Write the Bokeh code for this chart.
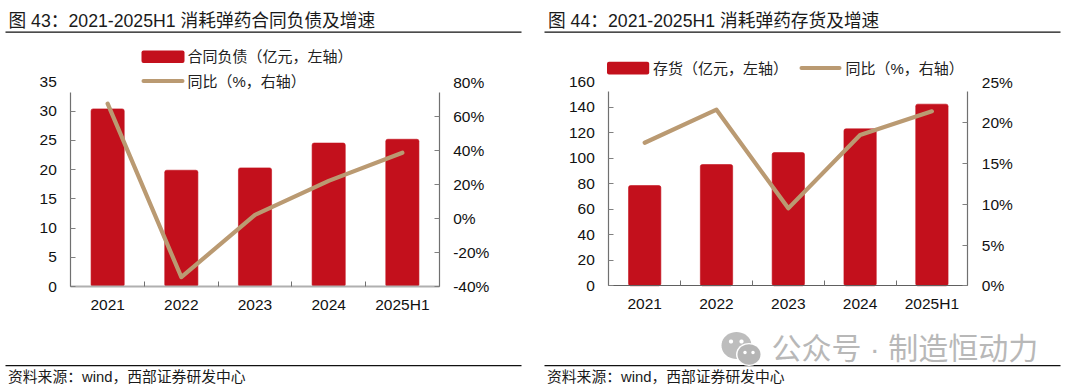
import math
from bokeh.embed import file_html
from bokeh.resources import INLINE
from bokeh.layouts import row
from bokeh.plotting import figure
from bokeh.models import (Range1d, LinearAxis, FixedTicker, Label, BoxAnnotation, PolyAnnotation,
                          ColumnDataSource)

categories = ["2021", "2022", "2023", "2024", "2025H1"]

contract_liab = [30.4, 19.9, 20.3, 24.55, 25.2]
contract_yoy = [67.3, -34.5, 2.0, 22.0, 38.5]
inventory = [78.7, 95.2, 104.6, 123.2, 142.6]
inventory_yoy = [17.55, 21.6, 9.5, 18.5, 21.4]

left_ticks_1 = [0, 5, 10, 15, 20, 25, 30, 35]
right_ticks_1 = [-40, -20, 0, 20, 40, 60, 80]
left_ticks_2 = [0, 20, 40, 60, 80, 100, 120, 140, 160]
right_ticks_2 = [0, 5, 10, 15, 20, 25]

title_1 = "图 43：2021-2025H1 消耗弹药合同负债及增速"
title_2 = "图 44：2021-2025H1 消耗弹药存货及增速"
source_text = "资料来源：wind，西部证券研发中心"
bar_label_1 = "合同负债（亿元，左轴）"
bar_label_2 = "存货（亿元，左轴）"
line_label = "同比（%，右轴）"
watermark = "公众号 · 制造恒动力"

BAR = "#C3101C"
LINE = "#BA9A72"
FONT = "Liberation Sans, Noto Sans CJK SC"
W1, W2, H = 537, 537, 390


def text(p, x, y, s, size, color="#1a1a1a"):
    p.add_layout(Label(x=x, y=H - y, x_units="screen", y_units="screen", text=s, text_font=FONT,
                       text_font_size=size, text_color=color, text_baseline="middle", text_align="left",
                       level="overlay"))


def box(p, x0, x1, y0, y1, color, radius=0):
    p.add_layout(BoxAnnotation(left=x0, right=x1, top=H - y0, bottom=H - y1, left_units="screen",
                               right_units="screen", top_units="screen", bottom_units="screen",
                               fill_color=color, fill_alpha=1, line_alpha=0, level="overlay",
                               border_radius=radius))


def extended(vmin, vmax, px_min, px_max, canvas):
    """Range over the whole canvas such that vmin..vmax lands on px_min..px_max."""
    k = (vmax - vmin) / (px_max - px_min)
    return Range1d(vmin - px_min * k, vmax + (canvas - px_max) * k)


def style_y(a, ticks):
    a.ticker = FixedTicker(ticks=ticks)
    a.major_tick_in = 5
    a.major_tick_out = 0
    a.minor_tick_line_color = None
    a.major_tick_line_color = "#808080"
    a.axis_line_color = "#707070"
    a.axis_line_width = 1.2
    a.major_label_text_font = "Liberation Sans"
    a.major_label_text_font_size = "15.5px"
    a.major_label_text_color = "#111111"
    a.major_label_standoff = 14
    a.bounds = (min(ticks), max(ticks))


def chart(width, fl, fr, ft, fb, bars, yoy, lt, rt, base_color, base_width, bar_w):
    n = len(categories)
    centers = [i + 0.5 for i in range(n)]
    p = figure(width=width, height=H, x_range=extended(0, n, fl, fr, width),
               y_range=extended(min(lt), max(lt), H - fb, H - ft, H), output_backend="svg",
               toolbar_location=None, x_axis_type=None, y_axis_type=None,
               min_border=0, min_border_left=0, min_border_right=0, min_border_top=0, min_border_bottom=0,
               outline_line_color=None, background_fill_color="white", border_fill_color="white")
    p.extra_y_ranges = {"r": extended(min(rt), max(rt), H - fb, H - ft, H)}
    src = ColumnDataSource(dict(c=centers, b=bars, y=yoy))
    p.vbar(x="c", top="b", width=bar_w, source=src, fill_color=BAR, line_color=BAR, line_alpha=0.6,
           line_width=1, border_radius=2)
    p.line(x="c", y="y", source=src, y_range_name="r", line_color=LINE, line_width=4.2,
           line_join="round", line_cap="round")

    xa = LinearAxis(fixed_location=0, bounds=(0, n), ticker=FixedTicker(ticks=centers),
                    major_label_overrides=dict(zip(centers, categories)),
                    major_tick_line_color=None, minor_tick_line_color=None,
                    major_label_text_font="Liberation Sans", major_label_text_font_size="15.5px",
                    major_label_text_color="#111111", major_label_standoff=3,
                    axis_line_color=base_color, axis_line_width=base_width)
    p.add_layout(xa, "below")

    ticks = LinearAxis(fixed_location=0, axis_line_color=None, bounds=(0, n),
                       ticker=FixedTicker(ticks=list(range(n + 1))),
                       major_tick_in=5, major_tick_out=0, major_tick_line_color="#707070",
                       minor_tick_line_color=None,
                       major_label_overrides={i: "" for i in range(n + 1)})
    p.add_layout(ticks, "below")

    ya = LinearAxis(fixed_location=0)
    style_y(ya, lt)
    p.add_layout(ya, "left")

    ra = LinearAxis(y_range_name="r", fixed_location=n, major_label_overrides={t: f"{t}%" for t in rt})
    style_y(ra, rt)
    p.add_layout(ra, "right")
    return p


# left panel
p1 = chart(W1, 70.3, 438.7, 81.5, 286, contract_liab, contract_yoy, left_ticks_1, right_ticks_1,
           "#b0b0b0", 2, 0.45)
box(p1, 66, 443, 76, 92, "white")
box(p1, 141, 184, 50, 62.5, BAR, 2)
box(p1, 141, 184, 78.5, 82.5, LINE, 2)
text(p1, 187, 56, bar_label_1, "15px", "#222222")
text(p1, 187, 80.5, line_label, "15px", "#222222")
text(p1, 8, 20.5, title_1, "17.7px")
box(p1, 5, 521, 31, 32.3, "#111111")
box(p1, 5, 521, 364.4, 365.7, "#111111")
text(p1, 7.5, 376.5, source_text, "14.8px")

# right panel
p2 = chart(W2, 71.3, 430.3, 81.5, 285.3, inventory, inventory_yoy, left_ticks_2, right_ticks_2,
           "#606060", 1.2, 0.45)
box(p2, 67, 434, 76, 91, "white")
box(p2, 69.5, 111.7, 61.3, 74, BAR, 2)
box(p2, 262, 304, 65.6, 69.6, LINE, 2)
text(p2, 115.5, 67.5, bar_label_2, "15px", "#222222")
text(p2, 308, 67.5, line_label, "15px", "#222222")
text(p2, 10.5, 20.5, title_2, "17.7px")
box(p2, 7, 523, 31, 32.3, "#111111")
box(p2, 7, 523, 364.4, 365.7, "#111111")
text(p2, 9.5, 376.5, source_text, "14.8px")


def bubble(p, cx, cy, rx, ry, color):
    n = 40
    xs = [cx + rx * math.cos(2 * math.pi * i / n) for i in range(n)]
    ys = [H - cy + ry * math.sin(2 * math.pi * i / n) for i in range(n)]
    p.add_layout(PolyAnnotation(xs=xs, ys=ys, xs_units="screen", ys_units="screen", fill_color=color, fill_alpha=1,
                                line_color=None, level="overlay"))


bubble(p2, 199, 345, 15, 13.5, "#bdbdbd")
bubble(p2, 193.5, 341, 2.1, 2.1, "#ffffff")
bubble(p2, 204, 341, 2.1, 2.1, "#ffffff")
bubble(p2, 211.5, 354, 13, 11.5, "#ffffff")
bubble(p2, 211.5, 354, 11.5, 10.2, "#b5b5b5")
bubble(p2, 207.5, 352, 1.7, 1.7, "#ffffff")
bubble(p2, 215.5, 352, 1.7, 1.7, "#ffffff")
text(p2, 234, 347.5, watermark, "30px", color="#b8b8b8")

page = row(p1, p2)
open("out.html", "w").write(file_html(page, INLINE))
